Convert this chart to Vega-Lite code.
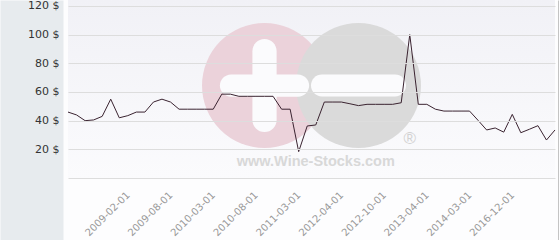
{
  "$schema": "https://vega.github.io/schema/vega-lite/v6.json",
  "width": 487,
  "height": 240,
  "autosize": "none",
  "padding": {"left": 68, "right": 5, "top": 0, "bottom": 0},
  "background": "#fdfdfe",
  "config": {"view": {"stroke": null}, "font": "DejaVu Sans",
    "axisX": {"orient": "bottom", "offset": -62,
      "labelExpr": "indexof(['2009-02-01', '2009-08-01', '2010-03-01', '2010-08-01', '2011-03-01', '2012-04-01', '2012-10-01', '2013-04-01', '2014-03-01', '2016-12-01'], isString(datum.value) ? datum.value : utcFormat(datum.value, '%Y-%m-%d')) >= 0 ? (isString(datum.value) ? datum.value : utcFormat(datum.value, '%Y-%m-%d')) : ''",
      "labelAngle": -45, "labelAlign": "right", "labelBaseline": "middle", "labelFontSize": 10, "labelColor": "#999999", "labelPadding": 15, "labelOverlap": false, "domain": false, "ticks": false, "grid": false, "title": null, "labelFont": "DejaVu Sans", "zindex": 1}},
  "data": {"values": [
    {"date": "2008-07-01", "price": 46},
    {"date": "2008-08-01", "price": 44},
    {"date": "2008-09-01", "price": 40},
    {"date": "2008-10-01", "price": 40.5},
    {"date": "2008-11-01", "price": 43},
    {"date": "2008-12-01", "price": 55},
    {"date": "2009-01-01", "price": 42},
    {"date": "2009-02-01", "price": 43.5},
    {"date": "2009-03-01", "price": 46},
    {"date": "2009-04-01", "price": 46},
    {"date": "2009-05-01", "price": 53},
    {"date": "2009-06-01", "price": 55},
    {"date": "2009-08-01", "price": 53},
    {"date": "2009-09-01", "price": 48},
    {"date": "2009-10-01", "price": 48},
    {"date": "2009-11-01", "price": 48},
    {"date": "2010-01-01", "price": 48},
    {"date": "2010-03-01", "price": 48},
    {"date": "2010-04-01", "price": 58.5},
    {"date": "2010-05-01", "price": 58.5},
    {"date": "2010-06-01", "price": 57},
    {"date": "2010-07-01", "price": 57},
    {"date": "2010-08-01", "price": 57},
    {"date": "2010-09-01", "price": 57},
    {"date": "2010-10-01", "price": 57},
    {"date": "2010-12-01", "price": 48},
    {"date": "2011-01-01", "price": 48},
    {"date": "2011-03-01", "price": 18.4},
    {"date": "2011-05-01", "price": 36.3},
    {"date": "2011-08-01", "price": 37},
    {"date": "2011-11-01", "price": 53},
    {"date": "2012-02-01", "price": 53},
    {"date": "2012-04-01", "price": 53},
    {"date": "2012-05-01", "price": 51.8},
    {"date": "2012-06-01", "price": 50.5},
    {"date": "2012-07-01", "price": 51.4},
    {"date": "2012-08-01", "price": 51.4},
    {"date": "2012-10-01", "price": 51.4},
    {"date": "2012-11-01", "price": 51.4},
    {"date": "2012-12-01", "price": 52.5},
    {"date": "2013-01-01", "price": 100},
    {"date": "2013-02-01", "price": 51.4},
    {"date": "2013-04-01", "price": 51.4},
    {"date": "2013-05-01", "price": 48},
    {"date": "2013-07-01", "price": 46.7},
    {"date": "2013-09-01", "price": 46.7},
    {"date": "2013-12-01", "price": 46.7},
    {"date": "2014-03-01", "price": 46.7},
    {"date": "2014-09-01", "price": 40.2},
    {"date": "2015-03-01", "price": 33.5},
    {"date": "2015-09-01", "price": 34.9},
    {"date": "2016-05-01", "price": 32},
    {"date": "2016-12-01", "price": 44.4},
    {"date": "2017-03-01", "price": 31.6},
    {"date": "2017-06-01", "price": 34},
    {"date": "2017-09-01", "price": 36.5},
    {"date": "2017-12-01", "price": 26.5},
    {"date": "2018-03-01", "price": 33.5}
  ]},
  "resolve": {"axis": {"y": "independent"}},
  "layer": [
    {
      "data": {"values": [{}]},
      "mark": {"type": "rect", "color": {"gradient": "linear", "x1": 0, "y1": 0, "x2": 0, "y2": 1, "stops": [{"offset": 0, "color": "#f1f1f6"}, {"offset": 1, "color": "#fbfbfd"}]}},
      "encoding": {
        "x": {"datum": "2008-07-01", "type": "ordinal"},
        "x2": {"datum": "2018-03-01"},
        "y": {"datum": 124.186, "type": "quantitative", "axis": null},
        "y2": {"datum": 0}
      }
    },
    {
      "data": {"values": [{}]},
      "mark": {"type": "point", "shape": "circle", "filled": true, "size": 15625, "color": "#ebd2da", "opacity": 1, "strokeWidth": 0},
      "encoding": {
        "x": {"datum": "2010-09-01", "type": "ordinal"},
        "y": {"datum": 64.5, "type": "quantitative", "axis": {"orient": "left", "offset": 36.5, "domain": true, "domainColor": "#e7ebee", "domainWidth": 63, "labels": false, "ticks": false, "grid": false, "title": null, "zindex": 0}}
      }
    },
    {
      "data": {"values": [{}]},
      "mark": {"type": "point", "shape": "circle", "filled": true, "size": 15625, "color": "#dadada", "opacity": 1, "strokeWidth": 0},
      "encoding": {
        "x": {"datum": "2012-06-01", "type": "ordinal"},
        "y": {"datum": 64.5, "type": "quantitative", "axis": {"orient": "right", "offset": 3, "domain": true, "domainColor": "#c4c4c4", "domainWidth": 1, "labels": false, "ticks": false, "grid": false, "title": null}}
      }
    },
    {
      "data": {"values": [{}]},
      "mark": {"type": "point", "shape": "M0.26,-0.74L0.26,0.74A0.26,0.26 0 0 1 -0.26,0.74L-0.26,-0.74A0.26,0.26 0 0 1 0.26,-0.74Z", "filled": true, "size": 8649, "color": "#fbfbfd", "opacity": 1, "strokeWidth": 0},
      "encoding": {
        "x": {"datum": "2010-09-01", "type": "ordinal"},
        "y": {"datum": 64.5, "type": "quantitative", "axis": null}
      }
    },
    {
      "data": {"values": [{}]},
      "mark": {"type": "point", "shape": "M-0.72,-0.24L0.72,-0.24A0.24,0.24 0 0 1 0.72,0.24L-0.72,0.24A0.24,0.24 0 0 1 -0.72,-0.24Z", "filled": true, "size": 8649, "color": "#fbfbfd", "opacity": 1, "strokeWidth": 0},
      "encoding": {
        "x": {"datum": "2010-09-01", "type": "ordinal"},
        "y": {"datum": 64.5, "type": "quantitative", "axis": null}
      }
    },
    {
      "data": {"values": [{}]},
      "mark": {"type": "point", "shape": "M-0.77,-0.23L0.77,-0.23A0.23,0.23 0 0 1 0.77,0.23L-0.77,0.23A0.23,0.23 0 0 1 -0.77,-0.23Z", "filled": true, "size": 9025, "color": "#fbfbfd", "opacity": 1, "strokeWidth": 0},
      "encoding": {
        "x": {"datum": "2012-06-01", "type": "ordinal"},
        "y": {"datum": 64.5, "type": "quantitative", "axis": null}
      }
    },
    {
      "data": {"values": [{}]},
      "mark": {"type": "text", "text": "www.Wine-Stocks.com", "font": "Liberation Sans", "fontWeight": "bold", "fontSize": 14.5, "color": "#d8d8d8", "align": "center", "baseline": "middle"},
      "encoding": {
        "x": {"datum": "2011-08-01", "type": "ordinal"},
        "y": {"datum": 11.2, "type": "quantitative", "axis": null}
      }
    },
    {
      "data": {"values": [{}]},
      "mark": {"type": "text", "text": "®", "font": "Liberation Sans", "fontSize": 17, "color": "#d2d2d2", "align": "center", "baseline": "middle"},
      "encoding": {
        "x": {"datum": "2013-01-01", "type": "ordinal"},
        "y": {"datum": 27.2, "type": "quantitative", "axis": null}
      }
    },
    {
      "mark": {"type": "line", "color": "#3a2330", "strokeWidth": 1},
      "encoding": {
        "x": {"field": "date", "type": "ordinal", "scale": {"type": "point", "padding": 0},
          "axis": {"orient": "bottom", "offset": -62, "zindex": 1, "labelAngle": -45, "labelAlign": "right", "labelBaseline": "middle", "labelFontSize": 10, "labelColor": "#999999", "labelPadding": 15, "labelOverlap": false, "domain": false, "ticks": false, "grid": false, "title": null,
            "labelExpr": "indexof(['2009-02-01', '2009-08-01', '2010-03-01', '2010-08-01', '2011-03-01', '2012-04-01', '2012-10-01', '2013-04-01', '2014-03-01', '2016-12-01'], isString(datum.value) ? datum.value : utcFormat(datum.value, '%Y-%m-%d')) >= 0 ? (isString(datum.value) ? datum.value : utcFormat(datum.value, '%Y-%m-%d')) : ''"}},
        "y": {"field": "price", "type": "quantitative", "scale": {"domain": [-43.256, 124.186], "nice": false, "zero": false},
          "axis": {"orient": "left", "values": [0, 20, 40, 60, 80, 100, 120], "labelExpr": "datum.value == 0 ? '' : datum.value + ' $'",
            "grid": true, "gridColor": "#dddddd", "ticks": false, "tickSize": 0, "domain": false, "offset": 0,
            "labelPadding": 9, "labelFontSize": 11, "labelColor": "#333333", "labelFont": "DejaVu Sans", "title": null, "zindex": 1}}
      }
    }
  ]
}
